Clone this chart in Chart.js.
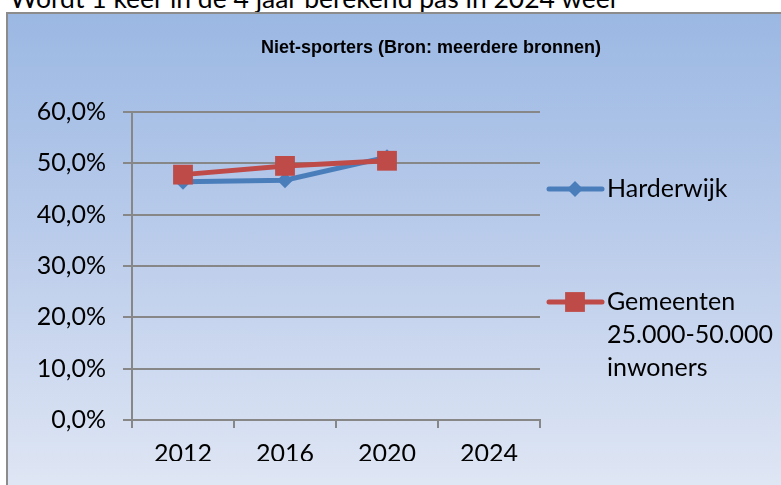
<!DOCTYPE html>
<html>
<head>
<meta charset="utf-8">
<script src="https://cdn.jsdelivr.net/npm/chart.js@4.4.1/dist/chart.umd.min.js"></script>
<style>
  html, body { margin: 0; padding: 0; background: #fff; overflow: hidden; }
  body { width: 781px; height: 485px; position: relative; }
  #note {
    position: absolute; left: 10px; top: -17px;
    font-family: Lato, "Open Sans", sans-serif; font-size: 26.5px; line-height: 30px;
    color: #000; white-space: nowrap;
  }
  #frame {
    position: absolute; left: 6px; top: 12px; width: 775px; height: 473px;
    box-sizing: border-box;
    border-left: 2px solid #8c8c8c; border-top: 2px solid #8c8c8c;
    background: linear-gradient(to bottom, #9bb8e3 0%, #bccdeb 50%, #dfe6f4 100%);
  }
  #chart { position: absolute; left: 0; top: 0; }
</style>
</head>
<body>
<div id="note">Wordt 1 keer in de 4 jaar berekend pas in 2024 weer</div>
<div id="frame"><canvas id="chart" width="773" height="471"></canvas></div>
<script>
// gegevens uit de grafiek
const years = ["2012", "2016", "2020", "2024"];
const harderwijk = [46.4, 46.7, 51.2, null];
const gemeenten = [47.8, 49.5, 50.5, null];
const yTicks = [0, 10, 20, 30, 40, 50, 60];

const TITLE = "Niet-sporters (Bron: meerdere bronnen)";
const BLUE = "#4a7ebb";
const RED = "#be4b48";
const AXIS = "#878787";
const FONT = "Lato, 'Open Sans', sans-serif";

const legendItems = [
  { lines: ["Harderwijk"], color: BLUE, style: "rectRot", radius: 8, y: 175 },
  { lines: ["Gemeenten", "25.000-50.000", "inwoners"], color: RED, style: "rect", radius: 14, y: 288 },
];

// titel en legenda zelf tekenen
const extrasPlugin = {
  id: "extras",
  afterDraw(chart) {
    const ctx = chart.ctx;
    ctx.save();
    ctx.fillStyle = "#000";
    ctx.font = "bold 18px 'Liberation Sans', Arial, sans-serif";
    ctx.textAlign = "center";
    ctx.textBaseline = "middle";
    ctx.fillText(TITLE, 423, 34);

    ctx.font = `25px ${FONT}`;
    ctx.textAlign = "left";
    for (const item of legendItems) {
      ctx.strokeStyle = item.color;
      ctx.lineWidth = 5;
      ctx.lineCap = "round";
      ctx.beginPath();
      ctx.moveTo(541, item.y);
      ctx.lineTo(594, item.y);
      ctx.stroke();
      ctx.fillStyle = item.color;
      Chart.helpers.drawPoint(ctx, { pointStyle: item.style, radius: item.radius, borderWidth: 0 }, 567, item.y);
      ctx.fillStyle = "#000";
      item.lines.forEach((t, i) => ctx.fillText(t, 599, item.y + i * 33));
    }
    ctx.restore();
  },
};

new Chart(document.getElementById("chart"), {
  type: "line",
  data: {
    labels: years,
    datasets: [
      {
        label: "Harderwijk",
        data: harderwijk,
        borderColor: BLUE,
        backgroundColor: BLUE,
        borderWidth: 5,
        pointStyle: "rectRot",
        pointRadius: 8,
        pointBorderWidth: 0,
        tension: 0,
        order: 1,
      },
      {
        label: "Gemeenten 25.000-50.000 inwoners",
        data: gemeenten,
        borderColor: RED,
        backgroundColor: RED,
        borderWidth: 5,
        pointStyle: "rect",
        pointRadius: 14,
        pointBorderWidth: 0,
        tension: 0,
        order: 0,
      },
    ],
  },
  options: {
    responsive: false,
    animation: false,
    events: [],
    layout: { padding: { left: 6, right: 241, top: 98, bottom: 24 } },
    plugins: {
      legend: { display: false },
      title: { display: false },
      tooltip: { enabled: false },
    },
    scales: {
      x: {
        offset: true,
        grid: { offset: true, drawOnChartArea: false, drawTicks: true, tickLength: 8, color: AXIS, lineWidth: 2 },
        border: { display: true, color: AXIS, width: 2 },
        ticks: { color: "#000", font: { family: FONT, size: 25 }, padding: 11 },
        afterFit(scale) { scale.height = 41; },
      },
      y: {
        min: 0,
        max: 60,
        afterBuildTicks(scale) { scale.ticks = yTicks.map((v) => ({ value: v })); },
        grid: { color: AXIS, lineWidth: 2, tickLength: 9 },
        border: { display: true, color: AXIS, width: 2 },
        ticks: {
          color: "#000",
          font: { family: FONT, size: 25 },
          padding: 17,
          callback: (v) => v.toFixed(1).replace(".", ",") + "%",
        },
        afterFit(scale) { scale.width = 118; },
      },
    },
  },
  plugins: [extrasPlugin],
});
</script>
</body>
</html>
